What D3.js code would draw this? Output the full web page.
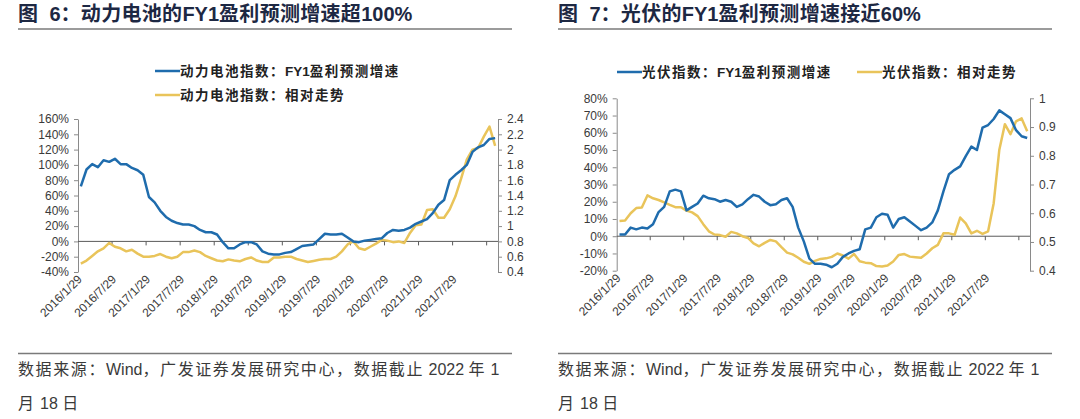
<!DOCTYPE html>
<html>
<head>
<meta charset="utf-8">
<script src="https://cdn.jsdelivr.net/npm/d3@7"></script>
<style>
  body { margin: 0; background: #fff; }
  svg { display: block; }
  text { white-space: pre; }
</style>
</head>
<body>
<svg id="chart" width="1080" height="419" viewBox="0 0 1080 419"></svg>
<script>
// category labels shown every 6th point
const dateLabels = ["2016/1/29", "2016/7/29", "2017/1/29", "2017/7/29", "2018/1/29", "2018/7/29",
    "2019/1/29", "2019/7/29", "2020/1/29", "2020/7/29", "2021/1/29", "2021/7/29"];

// fig 6: power battery index
const batteryGrowth = [72, 94, 101, 97, 106, 104, 108, 101, 101, 96, 93, 87, 58, 51, 40, 32, 27, 24, 22, 22,
    20, 15, 12, 12, 9, -1, -9, -9, -4, -1, -1, -4, -13, -16, -17, -17, -15, -14, -10, -6,
    -5, -4, 3, 10, 9, 9, 10, 5, 0, -1, 1, 2, 3, 4, 11, 15, 14, 15, 18, 23,
    26, 29, 37, 48, 54, 80, 87, 93, 100, 117, 123, 126, 134, 135];
const batteryRelative = [0.51, 0.55, 0.61, 0.67, 0.71, 0.78, 0.73, 0.71, 0.67, 0.69, 0.64, 0.60, 0.60, 0.61, 0.635, 0.60, 0.58, 0.60, 0.66, 0.66,
    0.68, 0.66, 0.61, 0.58, 0.55, 0.54, 0.565, 0.55, 0.54, 0.57, 0.59, 0.55, 0.53, 0.53, 0.59, 0.59, 0.60, 0.60, 0.57, 0.55,
    0.53, 0.545, 0.56, 0.57, 0.57, 0.60, 0.67, 0.76, 0.80, 0.71, 0.69, 0.73, 0.77, 0.82, 0.81, 0.79, 0.80, 0.78, 0.91, 1.01,
    1.02, 1.21, 1.22, 1.11, 1.11, 1.22, 1.39, 1.62, 1.87, 2.00, 2.02, 2.17, 2.30, 2.05];
const batteryLeftTicks = [-40, -20, 0, 20, 40, 60, 80, 100, 120, 140, 160];
const batteryRightTicks = [0.4, 0.6, 0.8, 1.0, 1.2, 1.4, 1.6, 1.8, 2.0, 2.2, 2.4];

// fig 7: photovoltaic index
const pvGrowth = [1, 1, 5, 4, 5, 4.5, 7, 14, 17, 26, 27, 26, 15, 17, 19, 23.5, 22, 21.5, 20, 21,
    20, 17, 18.5, 21.5, 24, 23, 20, 18, 18.5, 21, 22, 17, 5, -3, -13, -16, -16, -16.5, -18, -16,
    -12, -10, -8.5, -7.6, 4, 5, 11, 13, 12.5, 5, 10, 11, 8.5, 6, 3.5, 5, 8, 15, 26, 36,
    38.5, 40.5, 46.5, 52, 50, 63, 64.5, 68, 73, 70.7, 68.5, 61.5, 58, 57];
const pvRelative = [0.573, 0.575, 0.60, 0.618, 0.62, 0.662, 0.652, 0.646, 0.638, 0.629, 0.621, 0.621, 0.609, 0.603, 0.59, 0.562, 0.537, 0.526, 0.524, 0.518,
    0.535, 0.53, 0.52, 0.514, 0.495, 0.485, 0.497, 0.507, 0.502, 0.482, 0.463, 0.457, 0.445, 0.431, 0.424, 0.434, 0.441, 0.443, 0.448, 0.46,
    0.453, 0.442, 0.458, 0.433, 0.428, 0.426, 0.416, 0.415, 0.418, 0.432, 0.455, 0.458, 0.449, 0.447, 0.445, 0.46, 0.478, 0.49, 0.53, 0.53,
    0.525, 0.585, 0.565, 0.53, 0.539, 0.528, 0.537, 0.635, 0.82, 0.91, 0.875, 0.92, 0.93, 0.885];
const pvLeftTicks = [-20, -10, 0, 10, 20, 30, 40, 50, 60, 70, 80];
const pvRightTicks = [0.4, 0.5, 0.6, 0.7, 0.8, 0.9, 1.0];

const BLUE = "#1f6cad";
const GOLD = "#e9c45a";
const AXIS = "#8a8a8a";
const TEXT = "#3a3a3a";
const FONT = "'Liberation Sans', Arial, 'Noto Sans CJK SC', sans-serif";
const CJK_RE = /[\u3000-\u303f\u4e00-\u9fff\uff00-\uffef]/;

const svg = d3.select("#chart");

// split a label into CJK / latin runs so only the CJK glyphs get extra tracking
function richText(sel, str, spacing) {
    const runs = str.match(/[\u3000-\u303f\u4e00-\u9fff\uff00-\uffef]+|[^\u3000-\u303f\u4e00-\u9fff\uff00-\uffef]+/g);
    runs.forEach(r => {
        const t = sel.append("tspan").text(r);
        if (CJK_RE.test(r)) t.attr("letter-spacing", spacing);
    });
    return sel;
}

function drawChart(cfg) {
    const g = svg.append("g");
    const L = cfg.left, R = cfg.right, T = cfg.top, B = cfg.bottom;

    // title + rules
    richText(g.append("text")
        .attr("x", cfg.ox).attr("y", 21)
        .attr("font-family", FONT).attr("font-size", 20).attr("font-weight", "bold")
        .attr("fill", "#1d2843"), cfg.title, 0.3);
    g.append("line").attr("x1", cfg.ox).attr("x2", cfg.ox + 494).attr("y1", 29).attr("y2", 29)
        .attr("stroke", "#7a7a7a").attr("stroke-width", 1.5);
    g.append("line").attr("x1", cfg.ox).attr("x2", cfg.ox + 494).attr("y1", 353.5).attr("y2", 353.5)
        .attr("stroke", "#7a7a7a").attr("stroke-width", 1.5);

    // source note
    richText(g.append("text").attr("x", cfg.ox).attr("y", 375)
        .attr("font-family", FONT).attr("font-size", 16).attr("fill", TEXT),
        "数据来源：Wind，广发证券发展研究中心，数据截止 2022 年 1", 1.6);
    richText(g.append("text").attr("x", cfg.ox).attr("y", 409)
        .attr("font-family", FONT).attr("font-size", 16).attr("fill", TEXT),
        "月 18 日", 1.6);

    const n = cfg.growth.length;
    const x = d3.scalePoint().domain(d3.range(n)).range([L, R]).padding(0.5);
    const step = x.step();
    const yL = d3.scaleLinear().domain(cfg.leftDomain).range([B, T]);
    const yR = d3.scaleLinear().domain(cfg.rightDomain).range([B, T]);

    // left axis
    const axL = g.append("g").attr("transform", `translate(${L},0)`)
        .call(d3.axisLeft(yL).tickValues(cfg.leftTicks).tickSize(4).tickSizeOuter(0).tickPadding(5)
            .tickFormat(d => d + "%"));
    // right axis
    const axR = g.append("g").attr("transform", `translate(${R},0)`)
        .call(d3.axisRight(yR).tickValues(cfg.rightTicks).tickSize(4).tickSizeOuter(0).tickPadding(5)
            .tickFormat(d => String(+d.toFixed(1))));
    [axL, axR].forEach(ax => {
        ax.select(".domain").attr("stroke", AXIS);
        ax.selectAll(".tick line").attr("stroke", AXIS);
        ax.selectAll("text").attr("font-family", "'Liberation Sans', Arial, sans-serif")
            .attr("font-size", 12).attr("fill", TEXT);
    });

    // category axis on the zero line, tick marks between categories
    const y0 = yL(0);
    g.append("line").attr("x1", L).attr("x2", R).attr("y1", y0).attr("y2", y0)
        .attr("stroke", "#5a5a5a").attr("stroke-width", 1);
    const tickIdx = d3.range(6, n, 6);
    g.selectAll(".xt").data(tickIdx).enter().append("line")
        .attr("x1", d => x(d) - step / 2).attr("x2", d => x(d) - step / 2)
        .attr("y1", y0).attr("y2", y0 + 4)
        .attr("stroke", "#5a5a5a");
    g.selectAll(".xl").data(dateLabels).enter().append("text")
        .attr("transform", (d, i) => `translate(${x(i * 6) + 2},${B + 8}) rotate(-45)`)
        .attr("text-anchor", "end")
        .attr("font-family", "'Liberation Sans', Arial, sans-serif")
        .attr("font-size", 12).attr("fill", TEXT)
        .text(d => d);

    // lines
    const lineL = d3.line().x((d, i) => x(i)).y(d => yL(d));
    const lineR = d3.line().x((d, i) => x(i)).y(d => yR(d));
    g.append("path").datum(cfg.relative).attr("d", lineR)
        .attr("fill", "none").attr("stroke", GOLD).attr("stroke-width", 2.5).attr("stroke-linejoin", "round");
    g.append("path").datum(cfg.growth).attr("d", lineL)
        .attr("fill", "none").attr("stroke", BLUE).attr("stroke-width", 2.5).attr("stroke-linejoin", "round");

    // legend
    cfg.legend.forEach(item => {
        g.append("line").attr("x1", item.x).attr("x2", item.x + 25).attr("y1", item.y).attr("y2", item.y)
            .attr("stroke", item.color).attr("stroke-width", 2.5);
        richText(g.append("text").attr("x", item.x + 25).attr("y", item.y + 5)
            .attr("font-family", FONT).attr("font-size", 13.5).attr("font-weight", "bold")
            .attr("fill", "#222"), item.label, 1.5);
    });
}

drawChart({
    ox: 18, left: 78, right: 498, top: 119, bottom: 272,
    title: "图  6：动力电池的FY1盈利预测增速超100%",
    growth: batteryGrowth, relative: batteryRelative,
    leftDomain: [-40, 160], rightDomain: [0.4, 2.4],
    leftTicks: batteryLeftTicks, rightTicks: batteryRightTicks,
    legend: [
        { x: 155, y: 71, color: BLUE, label: "动力电池指数：FY1盈利预测增速" },
        { x: 155, y: 95, color: GOLD, label: "动力电池指数：相对走势" }
    ]
});

drawChart({
    ox: 558, left: 616.7, right: 1030, top: 98.3, bottom: 270.7,
    title: "图  7：光伏的FY1盈利预测增速接近60%",
    growth: pvGrowth, relative: pvRelative,
    leftDomain: [-20, 80], rightDomain: [0.4, 1.0],
    leftTicks: pvLeftTicks, rightTicks: pvRightTicks,
    legend: [
        { x: 617, y: 72, color: BLUE, label: "光伏指数：FY1盈利预测增速" },
        { x: 857, y: 72, color: GOLD, label: "光伏指数：相对走势" }
    ]
});
</script>
</body>
</html>
